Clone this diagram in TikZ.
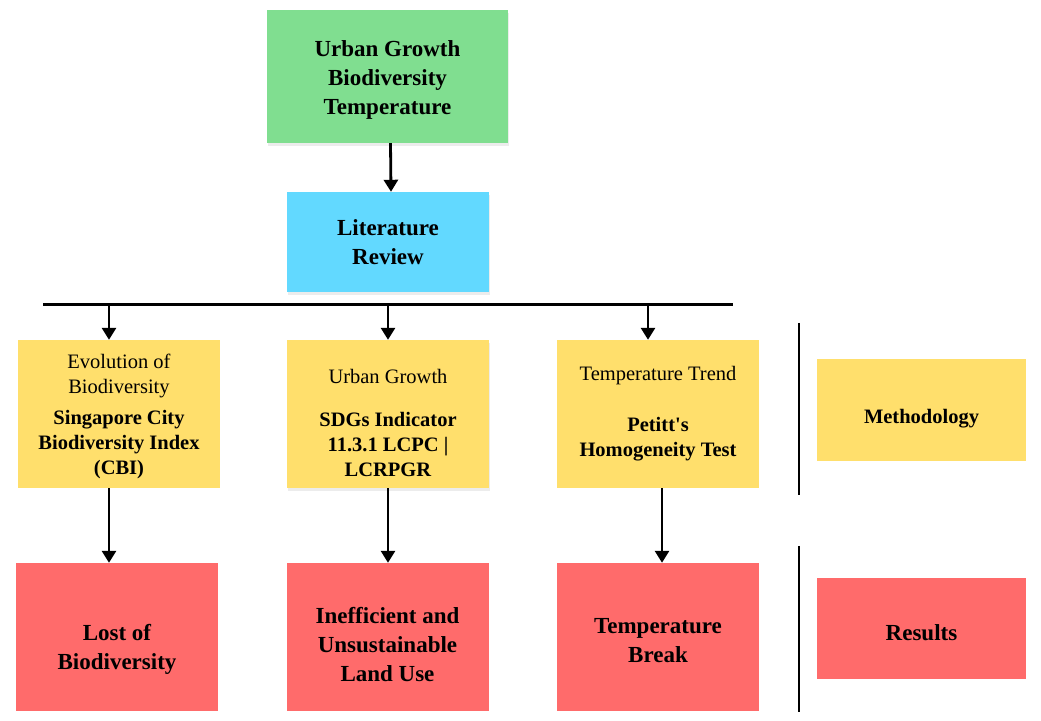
\documentclass[tikz,border=0pt]{standalone}
\usepackage{fontspec}
\setmainfont{Liberation Serif}
\usetikzlibrary{arrows.meta,shadows}

\definecolor{topgreen}{RGB}{128,222,144}
\definecolor{revblue}{RGB}{98,217,255}
\definecolor{methyellow}{RGB}{255,223,108}
\definecolor{resred}{RGB}{255,107,107}

% strut that pushes the text of a box down
\newcommand{\lowtext}[1]{\rule{0pt}{#1pt}}

\tikzset{
  box/.style={minimum width=202pt, minimum height=148pt, inner sep=0pt, align=center},
  shade/.style={drop shadow={opacity=0.15, shadow xshift=1pt, shadow yshift=-3.5pt}},
  big/.style={font=\fontsize{23}{29}\selectfont\bfseries},
  small/.style={font=\fontsize{20.5}{25}\selectfont},
  arr/.style={line width=2.8pt, -{Triangle[width=14pt,length=12pt]}},
  bar/.style={line width=3pt},
}

\begin{document}
\begin{tikzpicture}[x=1pt,y=1pt]
\useasboundingbox (0,0) rectangle (1041,720);
% top
\node [box, shade, big, fill=topgreen, minimum width=241pt, minimum height=133pt] (topic) at (387.5,643.5) {\lowtext{23.6}Urban Growth\\Biodiversity\\Temperature};
\node [box, shade, big, fill=revblue, minimum height=100pt] (review) at (388,478) {Literature\\Review};
% methodology row
\node [box, small, fill=methyellow] (evo) at (119,306) {\lowtext{20}Evolution of\\Biodiversity\\[6pt]\textbf{Singapore City}\\\textbf{Biodiversity Index}\\\textbf{(CBI)}};
\node [box, shade, small, fill=methyellow] (urb) at (388,306) {\lowtext{31.6}Urban Growth\\[18pt]\textbf{SDGs Indicator}\\\textbf{11.3.1 LCPC |}\\\textbf{LCRPGR}};
\node [box, small, fill=methyellow] (temp) at (658,306) {Temperature Trend\\[26pt]\textbf{Petitt\textquotesingle s}\\\textbf{Homogeneity Test}};
\node [box, small, font=\fontsize{20.5}{25}\selectfont\bfseries, fill=methyellow, minimum width=209pt, minimum height=102pt] (meth) at (921.5,310) {\lowtext{31.9}Methodology};
% results row
\node [box, big, fill=resred] (lost) at (117,83) {\lowtext{40.6}Lost of\\Biodiversity};
\node [box, big, fill=resred] (land) at (387.5,83) {\lowtext{31.6}Inefficient and\\Unsustainable\\Land Use};
\node [box, big, fill=resred] (brk) at (658,83) {\lowtext{23.2}Temperature\\Break};
\node [box, big, fill=resred, minimum width=209pt, minimum height=101pt] (res) at (921.5,91.5) {\lowtext{23.6}Results};
% bar and separators
\coordinate (barL) at (43,415);
\coordinate (barR) at (733,415);
\draw [bar] (barL) -- (barR);
\coordinate (sepA) at (799,397); \coordinate (sepB) at (799,225);
\coordinate (sepC) at (799,174); \coordinate (sepD) at (799,8);
\draw [line width=2.8pt] (sepA) -- (sepB);
\draw [line width=2.8pt] (sepC) -- (sepD);
% arrows
\draw [arr] ([xshift=3pt]topic.south) -- ([xshift=3pt]review.north);
\draw [arr] ([xshift=-10pt]evo.north |- barL) -- ([xshift=-10pt]evo.north);
\draw [arr] (urb.north |- barL) -- (urb.north);
\draw [arr] ([xshift=-10pt]temp.north |- barL) -- ([xshift=-10pt]temp.north);
\draw [arr] ([xshift=-10pt]evo.south) -- ([xshift=-10pt]evo.south |- lost.north);
\draw [arr] (urb.south) -- (urb.south |- land.north);
\draw [arr] ([xshift=4pt]temp.south) -- ([xshift=4pt]temp.south |- brk.north);
\end{tikzpicture}
\end{document}
